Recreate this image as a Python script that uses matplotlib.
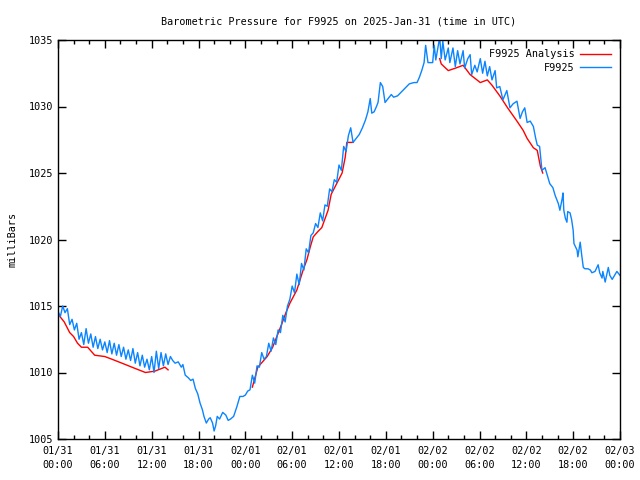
import numpy as np
import matplotlib
matplotlib.use("Agg")
import matplotlib.pyplot as plt
from matplotlib.ticker import MultipleLocator

# hours since 2025-01-31 00:00 UTC
f9925_hours = [
    0.0, 0.3, 0.6, 0.9, 1.2, 1.5, 1.8, 2.1, 2.4, 2.7, 3.0, 3.3, 3.6, 3.9, 4.2, 4.5, 4.8, 5.1, 5.4, 5.7,
    6.0, 6.3, 6.6, 6.9, 7.2, 7.5, 7.8, 8.1, 8.4, 8.7, 9.0, 9.3, 9.6, 9.9, 10.2, 10.5, 10.8, 11.1, 11.4, 11.7,
    12.0, 12.3, 12.6, 12.9, 13.2, 13.5, 13.8, 14.1, 14.4, 14.7, 15.0, 15.4, 15.8, 16.0, 16.3, 16.7, 17.0, 17.3,
    17.6, 17.9, 18.2, 18.5, 18.7, 19.0, 19.3, 19.5, 19.8, 20.0, 20.2, 20.4, 20.7, 21.1, 21.5, 21.8, 22.1, 22.5,
    22.9, 23.3, 23.7, 24.0, 24.3, 24.6, 24.9, 25.2, 25.5, 25.8, 26.1, 26.4, 26.7, 27.0, 27.3, 27.6, 27.9, 28.2,
    28.5, 28.8, 29.1, 29.4, 29.7, 30.0, 30.3, 30.6, 30.9, 31.2, 31.5, 31.8, 32.1, 32.4, 32.7, 33.0, 33.3, 33.6,
    33.9, 34.2, 34.5, 34.8, 35.1, 35.4, 35.7, 36.0, 36.3, 36.6, 36.9, 37.2, 37.5, 37.8, 38.2, 38.6, 39.0, 39.4,
    39.7, 40.0, 40.2, 40.5, 40.8, 41.0, 41.3, 41.6, 41.9, 42.3, 42.7, 43.0, 43.5, 44.0, 44.5, 45.0, 45.6, 46.0,
    46.3, 46.6, 46.9, 47.1, 47.4, 48.0, 48.2, 48.4, 48.9, 49.1, 49.3, 49.6, 50.0, 50.2, 50.6, 50.9, 51.2, 51.5,
    51.9, 52.1, 52.5, 52.8, 53.0, 53.4, 53.7, 54.1, 54.4, 54.7, 55.0, 55.3, 55.6, 56.0, 56.2, 56.6, 57.0, 57.5,
    57.9, 58.3, 58.8, 59.2, 59.5, 59.8, 60.1, 60.5, 60.9, 61.2, 61.4, 61.7, 62.0, 62.4, 62.7, 63.0, 63.4, 63.7,
    64.1, 64.3, 64.6, 64.7, 64.8, 65.0, 65.2, 65.3, 65.6, 65.8, 66.0, 66.1, 66.5, 66.6, 66.9, 67.1, 67.3, 67.5,
    67.9, 68.2, 68.4, 68.8, 69.2, 69.4, 69.7, 69.8, 70.1, 70.5, 70.7, 71.0, 71.2, 71.6, 72.0,
]
f9925_mbar = [
    1014.6, 1014.2, 1015.0, 1014.5, 1014.8, 1013.6, 1014.0, 1013.2, 1013.7, 1012.5, 1013.0, 1012.1, 1013.3, 1012.2, 1012.9, 1011.9, 1012.7, 1011.8, 1012.5, 1011.7,
    1012.3, 1011.5, 1012.4, 1011.4, 1012.2, 1011.3, 1012.1, 1011.2, 1011.9, 1011.0, 1011.7, 1010.9, 1011.8, 1010.7, 1011.5, 1010.5, 1011.3, 1010.4, 1011.0, 1010.2,
    1011.2, 1010.0, 1011.6, 1010.3, 1011.5, 1010.5, 1011.4, 1010.6, 1011.2, 1010.9, 1010.7, 1010.8, 1010.4, 1010.6, 1009.8, 1009.6, 1009.4, 1009.5,
    1008.8, 1008.4, 1007.7, 1007.2, 1006.7, 1006.2, 1006.5, 1006.6, 1006.2, 1005.6, 1006.0, 1006.7, 1006.5, 1007.0, 1006.8, 1006.4, 1006.5, 1006.7,
    1007.4, 1008.2, 1008.2, 1008.3, 1008.6, 1008.7, 1009.8, 1009.2, 1010.5, 1010.4, 1011.5, 1011.0, 1011.2, 1012.2, 1011.6, 1012.6, 1012.1, 1013.2,
    1013.0, 1014.3, 1013.8, 1015.0, 1015.5, 1016.5, 1016.0, 1017.4, 1016.6, 1018.2, 1017.7, 1019.3, 1019.0, 1020.3, 1020.5, 1021.2, 1020.9, 1022.0,
    1021.4, 1022.6, 1022.5, 1023.8, 1023.6, 1024.5, 1024.3, 1025.6, 1025.2, 1027.0, 1026.6, 1027.8, 1028.4, 1027.3, 1027.6, 1027.9, 1028.4, 1029.0,
    1029.6, 1030.6, 1029.5, 1029.6, 1030.0, 1030.3, 1031.8, 1031.5, 1030.3, 1030.6, 1030.9, 1030.7, 1030.8, 1031.1, 1031.4, 1031.7, 1031.8, 1031.8,
    1032.2, 1032.7, 1033.3, 1034.6, 1033.3, 1033.3, 1034.6, 1033.5, 1035.2, 1033.6, 1034.9, 1033.5, 1034.4, 1033.3, 1034.4, 1033.0, 1034.2, 1033.2,
    1034.2, 1032.9, 1033.6, 1033.9, 1032.4, 1033.1, 1032.6, 1033.6, 1032.5, 1033.4, 1032.3, 1033.0, 1032.0, 1032.7, 1031.4, 1031.5, 1030.5, 1031.2,
    1029.9, 1030.2, 1030.4, 1029.1, 1029.6, 1029.9, 1028.8, 1028.9, 1028.5, 1027.6, 1027.1, 1027.0, 1025.2, 1025.4, 1024.8, 1024.2, 1023.9, 1023.3,
    1022.7, 1022.2, 1023.1, 1023.5, 1022.2, 1021.6, 1021.3, 1022.1, 1022.0, 1021.5, 1020.7, 1019.7, 1019.2, 1018.7, 1019.8, 1018.8, 1017.9, 1017.8,
    1017.8, 1017.7, 1017.5, 1017.6, 1018.1, 1017.5, 1017.1, 1017.6, 1016.8, 1017.9, 1017.3, 1017.0, 1017.2, 1017.6, 1017.3,
]

# analysis series, nan marks the gaps
analysis_hours = [
    0.26, 0.8, 1.5, 2.0, 2.5, 3.0, 3.8, 4.7, 6.0, 6.9, 8.2, 9.9, 11.2, 12.4, 13.7, 14.1, np.nan,
    24.9, 25.6, 26.2, 26.8, 27.5, 28.1, 28.7, 29.2, 29.7, 30.6, 31.4, 31.9, 32.3, 32.7, 33.3, 33.8,
    34.6, 35.0, 35.7, 36.4, 36.8, 37.0, 37.8, np.nan,
    48.9, 49.1, 50.0, 51.0, 51.9, 52.8, 54.1, 55.0, 55.6, 56.6, 57.6, 58.8, 59.6, 60.1, 60.9, 61.4, 61.8, 62.1,
]
analysis_mbar = [
    1014.2, 1013.8, 1013.0, 1012.7, 1012.2, 1011.9, 1011.9, 1011.3, 1011.2, 1011.0, 1010.7, 1010.3, 1010.0, 1010.1, 1010.4, 1010.2, np.nan,
    1008.9, 1010.4, 1010.8, 1011.2, 1011.9, 1012.8, 1013.7, 1014.5, 1015.2, 1016.2, 1017.7, 1018.5, 1019.4, 1020.2, 1020.6, 1020.9,
    1022.2, 1023.4, 1024.2, 1025.0, 1026.2, 1027.3, 1027.3, np.nan,
    1033.6, 1033.2, 1032.7, 1032.9, 1033.1, 1032.4, 1031.8, 1032.0, 1031.6, 1030.8, 1029.9, 1028.9, 1028.2, 1027.6, 1026.9, 1026.7, 1025.5, 1025.0,
]

tick_hours = [0, 6, 12, 18, 24, 30, 36, 42, 48, 54, 60, 66, 72]
tick_labels = ["01/31\n00:00", "01/31\n06:00", "01/31\n12:00", "01/31\n18:00",
               "02/01\n00:00", "02/01\n06:00", "02/01\n12:00", "02/01\n18:00",
               "02/02\n00:00", "02/02\n06:00", "02/02\n12:00", "02/02\n18:00", "02/03\n00:00"]

fs = 7.3
plt.rcParams['font.family'] = 'DejaVu Sans Mono'
plt.rcParams['font.size'] = fs

fig = plt.figure(figsize=(6.4, 4.8), dpi=100)
ax = fig.add_axes([58 / 640, 41 / 480, 562 / 640, 399 / 480])

ax.plot(analysis_hours, analysis_mbar, color='#ff0000', lw=1, label='F9925 Analysis')
ax.plot(f9925_hours, f9925_mbar, color='#0a84ff', lw=1, label='F9925')

ax.set_xlim(0, 72)
ax.set_ylim(1005, 1035)
ax.set_xticks(tick_hours)
ax.set_xticklabels(tick_labels, linespacing=1.45)
ax.xaxis.set_minor_locator(MultipleLocator(2))
ax.set_yticks(range(1005, 1036, 5))
ax.tick_params(which='both', direction='in', top=True, right=True, width=1, labelsize=fs)
ax.tick_params(which='major', length=6)
ax.tick_params(which='minor', length=3)
ax.tick_params(axis='x', which='major', pad=5)
ax.tick_params(axis='y', which='major', pad=3.5)
for s in ax.spines.values():
    s.set_linewidth(1)

ax.set_title('Barometric Pressure for F9925 on 2025-Jan-31 (time in UTC)', pad=11, fontsize=fs)
ax.set_ylabel('milliBars', labelpad=8, fontsize=fs)
ax.legend(loc='upper right', frameon=False, markerfirst=False, handlelength=3,
          borderaxespad=0.5, labelspacing=0.35, handletextpad=0.6, fontsize=fs)

fig.savefig('out.png', dpi=100)
